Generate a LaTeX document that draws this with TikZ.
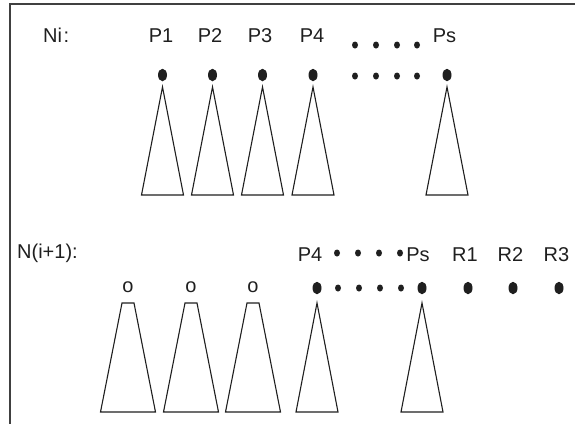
\documentclass[tikz,border=0pt]{standalone}
\usepackage{fontspec}
\setmainfont{Liberation Sans}
\usetikzlibrary{shapes.geometric}

\begin{document}
\begin{tikzpicture}[x=1bp,y=-1bp,
  lbl/.style={inner sep=0pt,anchor=base,font=\fontsize{20bp}{24bp}\selectfont,text=black!88},
  bigdot/.style={ellipse,fill=black!88,draw=none,inner sep=0pt,minimum width=9bp,minimum height=12.5bp},
  smalldot/.style={ellipse,fill=black!88,draw=none,inner sep=0pt,minimum width=6bp,minimum height=7bp},
  tree/.style={draw=black!88,line width=1.1bp,line join=miter},
  frame/.style={draw=black!75,line width=1.4bp}]
\useasboundingbox (0,0) rectangle (575,423);

% outer frame (runs off the right and bottom edges)
\draw[frame] (10,440) -- (10,4) -- (590,4);

% ---------- level N_i ----------
\node[lbl,anchor=base west] (ni) at (43,42) {Ni\kern1.5bp:};
\foreach \n/\x in {1/161,2/210,3/260,4/312}
  \node[lbl] (tp\n) at (\x,42) {P\n};
\node[lbl] (tps) at (444.5,42) {Ps};
\foreach \i/\x in {1/355,2/376,3/397,4/417}
  \node[smalldot] (tl\i) at (\x,45) {};

\foreach \n/\x in {1/162.5,2/212.5,3/262.5,4/313,s/447}{
  \node[bigdot] (a\n) at (\x,75) {};
  \draw[tree] (\x,87) -- (\x+21,195) -- (\x-21,195) -- cycle;
}
\foreach \i/\x in {1/355,2/376,3/397,4/417}
  \node[smalldot] (ad\i) at (\x,76) {};

% ---------- level N_(i+1) ----------
\node[lbl,anchor=base west] (nn) at (17,258) {N(i+1):};
\node[lbl] (bp4) at (310,261) {P4};
\node[lbl] (bps) at (418,261) {Ps};
\foreach \n/\x in {1/465,2/510.5,3/556.5}
  \node[lbl] (br\n) at (\x,261) {R\n};
\foreach \i/\x in {1/337,2/358,3/379,4/400}
  \node[smalldot] (bl\i) at (\x,253) {};

% removed subtrees
\foreach \n/\x in {1/128,2/191,3/253}{
  \node[lbl] (o\n) at (\x,292.5) {o};
  \draw[tree] (\x-6,303) -- (\x+6,303) -- (\x+27.5,412) -- (\x-27.5,412) -- cycle;
}

% kept subtrees
\foreach \n/\x in {4/317,s/422}{
  \node[bigdot] (b\n) at (\x,288) {};
  \draw[tree] (\x,303) -- (\x+21,412) -- (\x-21,412) -- cycle;
}
\foreach \i/\x in {1/338,2/359,3/380,4/401}
  \node[smalldot] (bd\i) at (\x,288) {};

% new roots
\foreach \n/\x in {1/468,2/513,3/559}
  \node[bigdot] (r\n) at (\x,288) {};
\end{tikzpicture}
\end{document}
